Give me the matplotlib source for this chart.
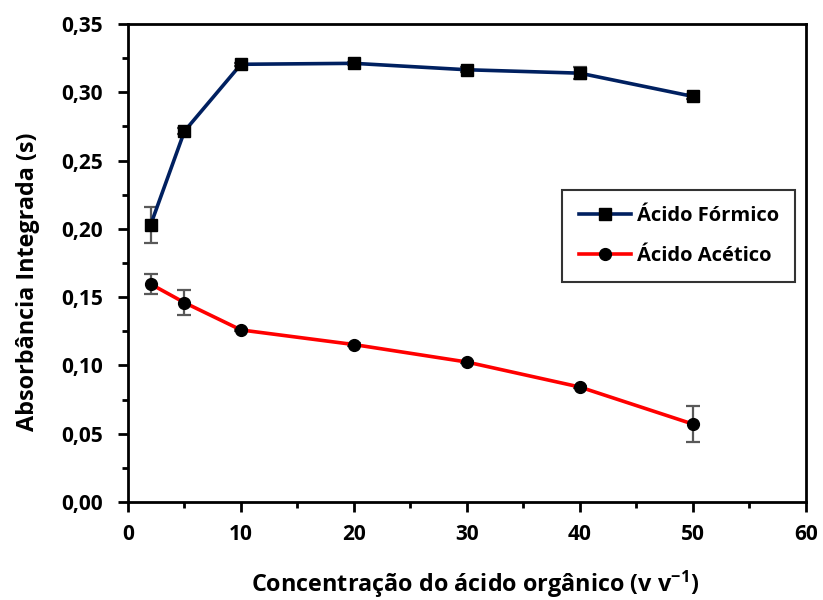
import matplotlib
matplotlib.use("Agg")
import matplotlib.pyplot as plt
from matplotlib.ticker import MultipleLocator, FuncFormatter
from matplotlib.lines import Line2D

plt.rcParams['font.family'] = ['Open Sans', 'DejaVu Sans']
plt.rcParams['font.weight'] = 'bold'
plt.rcParams['mathtext.fontset'] = 'custom'
plt.rcParams['mathtext.rm'] = 'Open Sans:bold'
plt.rcParams['mathtext.bf'] = 'Open Sans:bold'
plt.rcParams['mathtext.default'] = 'bf'

conc = [2, 5, 10, 20, 30, 40, 50]
formico = [0.2028, 0.2715, 0.3205, 0.3212, 0.3165, 0.3140, 0.2970]
formico_err = [0.013, 0.002, 0.001, 0.001, 0.002, 0.0045, 0.002]
acetico = [0.1596, 0.1460, 0.1260, 0.1153, 0.1025, 0.0842, 0.0571]
acetico_err = [0.007, 0.009, 0.001, 0.001, 0.001, 0.001, 0.0135]

fig = plt.figure(figsize=(8.23, 6.0), dpi=100)
ax = fig.add_axes([0.1555, 0.1633, 0.8235, 0.7967])

ax.errorbar(conc, formico, yerr=formico_err, color='#002060', lw=2.6,
            marker='s', ms=8, mfc='black', mec='black',
            ecolor='#595959', elinewidth=1.6, capsize=5, capthick=1.6,
            zorder=3)
ax.errorbar(conc, acetico, yerr=acetico_err, color='#ff0000', lw=2.6,
            marker='o', ms=8.5, mfc='black', mec='black',
            ecolor='#595959', elinewidth=1.6, capsize=5, capthick=1.6,
            zorder=3)

ax.set_xlim(0, 60)
ax.set_ylim(0, 0.35)
ax.xaxis.set_major_locator(MultipleLocator(10))
ax.xaxis.set_minor_locator(MultipleLocator(5))
ax.yaxis.set_major_locator(MultipleLocator(0.05))
ax.yaxis.set_minor_locator(MultipleLocator(0.025))
ax.yaxis.set_major_formatter(FuncFormatter(lambda v, p: f"{v:.2f}".replace('.', ',')))
ax.tick_params(axis='both', which='major', direction='out', length=7, width=2,
               labelsize=15)
ax.tick_params(axis='y', which='major', pad=11)
ax.tick_params(axis='x', which='major', pad=9)
ax.tick_params(axis='both', which='minor', direction='out', length=4, width=2)
for s in ax.spines.values():
    s.set_linewidth(2)

ax.set_xlabel('Concentração do ácido orgânico (v v$^{-1}$)', fontsize=16.8,
              fontweight='bold', labelpad=17, x=0.512)
ax.set_ylabel('Absorbância Integrada (s)', fontsize=16.8, fontweight='bold',
              labelpad=15, y=0.46)

handles = [Line2D([], [], color='#002060', lw=2.6, marker='s', ms=8, mfc='black', mec='black'),
           Line2D([], [], color='#ff0000', lw=2.6, marker='o', ms=8.5, mfc='black', mec='black')]
leg = ax.legend(handles, ['Ácido Fórmico', 'Ácido Acético'],
                loc='upper left', bbox_to_anchor=(0.641, 0.653), fontsize=14.5,
                frameon=True, fancybox=False, edgecolor='black', borderpad=0.8,
                labelspacing=1.0, handlelength=2.6, handletextpad=0.3,
                borderaxespad=0)
leg.get_frame().set_linewidth(1.5)

fig.savefig('out.png', dpi=100)
